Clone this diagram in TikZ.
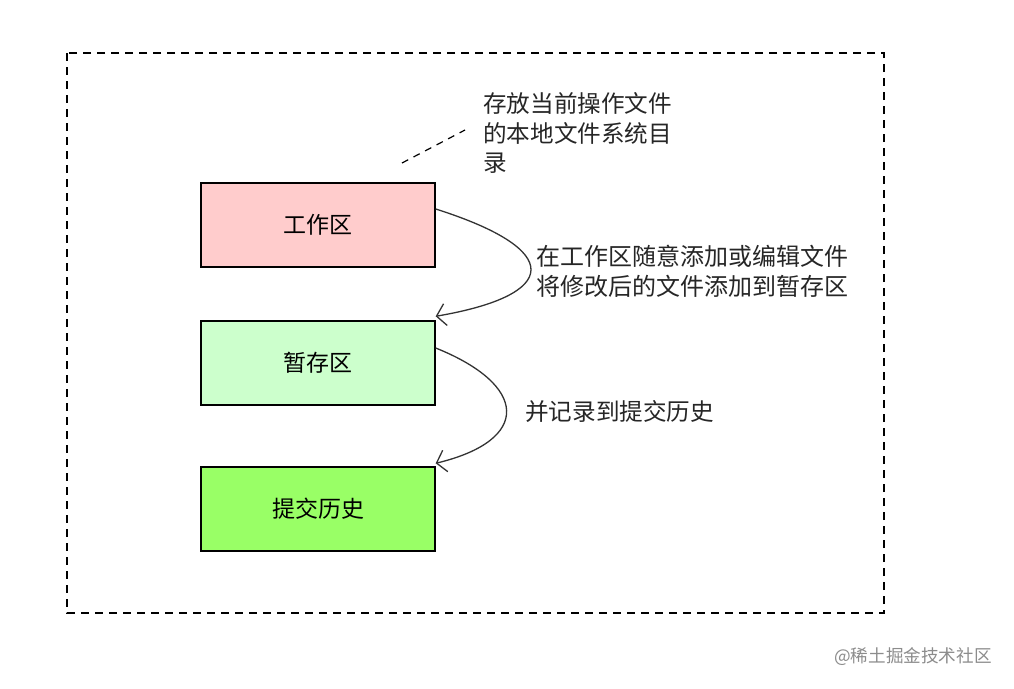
\documentclass[tikz,border=0pt]{standalone}
\usepackage{fontspec}
\newfontfamily\cjk{Noto Sans CJK SC}
\usetikzlibrary{arrows.meta}
\definecolor{workc}{HTML}{FFCCCC}
\definecolor{stagec}{HTML}{CCFFCC}
\definecolor{histc}{HTML}{99FF66}
\tikzset{
  area/.style={draw=black, line width=1.4pt, minimum width=234pt, minimum height=84pt, inner sep=0pt, font=\cjk\fontsize{23}{28}\selectfont},
  lbl/.style={anchor=west, align=left, inner sep=0pt, font=\cjk\fontsize{23.6}{29.7}\selectfont, text=black!85},
  flow/.style={draw=black!80, line width=1.3pt, -{Straight Barb[length=9pt,width=22pt,line width=1.3pt]}},
}
\begin{document}
\begin{tikzpicture}[x=1pt,y=-1pt]
\useasboundingbox[fill=white] (0,0) rectangle (1014,688);
\draw[dashed, line width=1.5pt, dash pattern=on 8pt off 6pt] (67,53) rectangle (884,613);
\node[area, fill=workc] (w) at (318,225) {工作区};
\node[area, fill=stagec] (s) at (318,363) {暂存区};
\node[area, fill=histc] (h) at (318,509) {提交历史};
\node[lbl] (note) at (483,133) {存放当前操作文件\\的本地文件系统目\\录};
\coordinate (noteend) at (402,163);
\draw[dashed, line width=1.2pt, dash pattern=on 7pt off 6pt] (noteend) -- (465,130);
\draw[flow] ([yshift=16pt]w.east) .. controls (565,250) and (560,295) .. ([yshift=4pt]s.north east);
\draw[flow] ([yshift=15pt]s.east) .. controls (528,385) and (532,440) .. ([yshift=3pt]h.north east);
\node[lbl, font=\cjk\fontsize{24}{30}\selectfont] (l1) at (536,271) {在工作区随意添加或编辑文件\\将修改后的文件添加到暂存区};
\node[lbl] (l2) at (525,412) {并记录到提交历史};
\node[anchor=west, inner sep=0pt, font=\cjk\fontsize{17.6}{20}\selectfont, text=black!45] (wm) at (834,657) {@稀土掘金技术社区};
\end{tikzpicture}
\end{document}
